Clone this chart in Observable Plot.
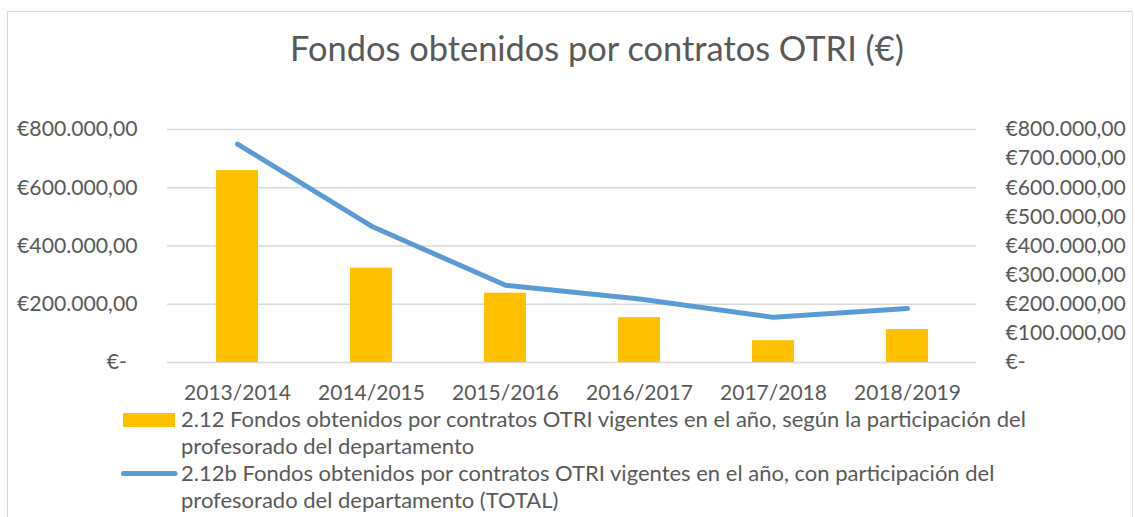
<!DOCTYPE html>
<html>
<head>
<meta charset="utf-8">
<script src="https://cdn.jsdelivr.net/npm/d3@7"></script>
<script src="https://cdn.jsdelivr.net/npm/@observablehq/plot@0.6"></script>
<style>
  html, body { margin: 0; padding: 0; background: #fff; }
  #root { position: relative; width: 1135px; height: 517px; overflow: hidden; font-family: Lato, "Open Sans", sans-serif; }
  #frame { position: absolute; left: 7px; top: 11px; width: 1126px; height: 560px; border-left: 1.5px solid #d9d9d9; border-top: 1.5px solid #d9d9d9; border-right: 1px solid #e6e6e6; box-sizing: border-box; }
  .layer { position: absolute; left: 0; }
</style>
</head>
<body>
<div id="root">
  <div id="frame"></div>
  <svg id="title" class="layer" style="top:0" width="1135" height="100"></svg>
  <div id="chart" class="layer" style="top:100px"></div>
  <svg id="legend" class="layer" style="top:400px" width="1135" height="117"></svg>
</div>
<script>
// ---- data ----
const titleText = "Fondos obtenidos por contratos OTRI (€)";
const years = ["2013/2014", "2014/2015", "2015/2016", "2016/2017", "2017/2018", "2018/2019"];
const barValues = [659000, 324000, 238000, 154000, 75000, 113000];
const lineValues = [750000, 468000, 265000, 218000, 155000, 185000];
const leftTicks = [0, 200000, 400000, 600000, 800000];
const rightTicks = [0, 100000, 200000, 300000, 400000, 500000, 600000, 700000, 800000];
const barLabel = ["2.12 Fondos obtenidos por contratos OTRI vigentes en el año, según la participación del", "profesorado del departamento"];
const lineLabel = ["2.12b Fondos obtenidos por contratos OTRI vigentes en el año, con participación del", "profesorado del departamento (TOTAL)"];

const textColor = "#595959";
const barColor = "#ffc000";
const lineColor = "#5b9bd5";
const font = "Lato, 'Open Sans', sans-serif";

const barData = years.map((y, i) => ({year: y, value: barValues[i]}));
const lineData = years.map((y, i) => ({year: y, value: lineValues[i]}));

const loc = d3.formatLocale({decimal: ",", thousands: ".", grouping: [3], currency: ["€", ""]});
const money = loc.format("$,.2f");
const fmtLeft = d => d === 0 ? "€-\u2002" : money(d);
const fmtRight = d => d === 0 ? "€-" : money(d);

// ---- title ----
d3.select("#title").append("text")
  .attr("x", 597).attr("y", 61)
  .attr("text-anchor", "middle")
  .attr("font-family", font).attr("font-size", 34.4)
  .attr("fill", textColor)
  .text(titleText);

// ---- chart ----
const chart = Plot.plot({
  width: 1135,
  height: 310,
  marginTop: 29,
  marginBottom: 48,
  marginLeft: 167,
  marginRight: 159,
  style: {fontFamily: font, color: textColor, background: "transparent"},
  x: {domain: years, paddingInner: 0.69, paddingOuter: 0.345},
  y: {domain: [0, 800000]},
  marks: [
    Plot.gridY(leftTicks, {stroke: "#d9d9d9", strokeOpacity: 1, strokeWidth: 1.5}),
    Plot.barY(barData, {x: "year", y: "value", fill: barColor}),
    Plot.line(lineData, {x: "year", y: "value", stroke: lineColor, strokeWidth: 5, strokeLinecap: "round", strokeLinejoin: "round"}),
    Plot.axisY(leftTicks, {anchor: "left", tickSize: 0, tickPadding: 30, tickFormat: fmtLeft, fontSize: 21.2, fill: textColor, label: null}),
    Plot.axisY(rightTicks, {anchor: "right", tickSize: 0, tickPadding: 29, tickFormat: fmtRight, fontSize: 21.2, fill: textColor, label: null}),
    Plot.axisX({tickSize: 0, tickPadding: 23, fontSize: 21, fill: textColor, label: null})
  ]
});
document.getElementById("chart").appendChild(chart);

// ---- legend ----
const lg = d3.select("#legend");
lg.append("rect").attr("x", 123).attr("y", 13).attr("width", 52).attr("height", 14).attr("fill", barColor);
lg.append("line").attr("x1", 123.5).attr("x2", 175).attr("y1", 73.5).attr("y2", 73.5)
  .attr("stroke", lineColor).attr("stroke-width", 5).attr("stroke-linecap", "round");
const legendLines = [[barLabel[0], 27], [barLabel[1], 54], [lineLabel[0], 81], [lineLabel[1], 108]];
legendLines.forEach(([t, y]) => {
  lg.append("text").attr("x", 181).attr("y", y)
    .attr("font-family", font).attr("font-size", 22).attr("fill", textColor)
    .text(t);
});
</script>
</body>
</html>
